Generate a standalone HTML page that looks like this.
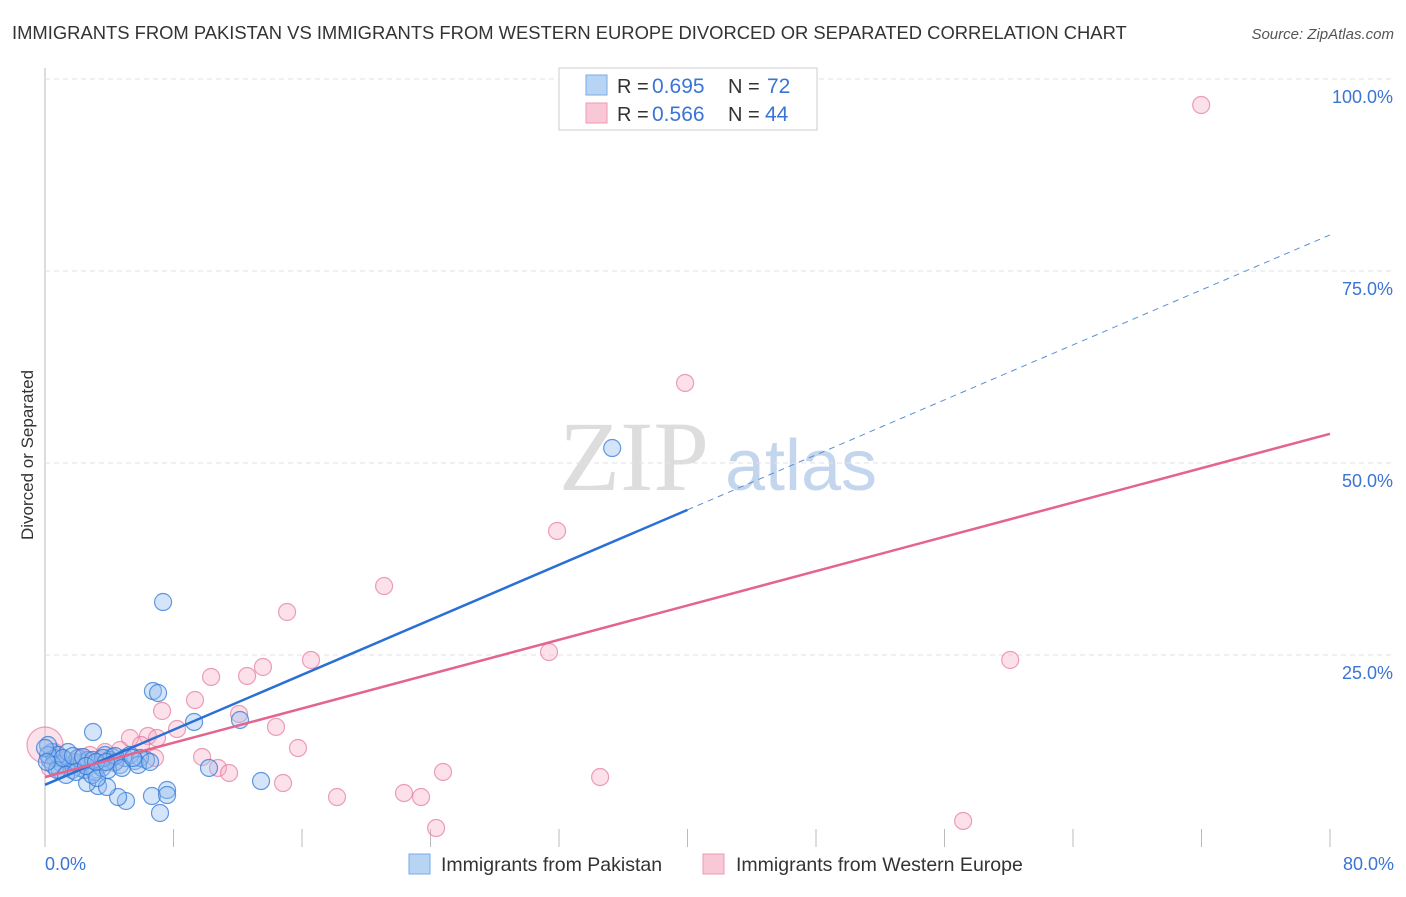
<!DOCTYPE html>
<html><head><meta charset="utf-8"><style>
body{margin:0;background:#fff;font-family:"Liberation Sans",sans-serif;}
</style></head><body>
<svg id="chart" width="1406" height="892" xmlns="http://www.w3.org/2000/svg" font-family="Liberation Sans, sans-serif">
<text x="12" y="39" font-size="18.4" fill="#333">IMMIGRANTS FROM PAKISTAN VS IMMIGRANTS FROM WESTERN EUROPE DIVORCED OR SEPARATED CORRELATION CHART</text>
<text x="1394" y="39" font-size="15" fill="#555" text-anchor="end" font-style="italic">Source: ZipAtlas.com</text>
<text transform="translate(33,455) rotate(-90)" font-size="17" fill="#333" text-anchor="middle">Divorced or Separated</text>
<g><text x="634" y="490" font-size="100" fill="#ddd" font-family="Liberation Serif, serif" text-anchor="middle">ZIP</text><text x="801" y="490" font-size="72" fill="#c4d6ee" text-anchor="middle">atlas</text></g>
<g id="grid"></g><g id="marks"></g>
<g>
<rect x="559" y="68" width="258" height="62" fill="#fff" stroke="#ccc"/>
<rect x="586" y="75" width="21" height="20" fill="#b8d4f4" stroke="#7aaae6"/>
<rect x="586" y="103" width="21" height="20" fill="#f9c8d6" stroke="#ee9ab4"/>
<text x="617" y="93" font-size="20" fill="#333">R =</text><text x="652" y="93" font-size="21" fill="#3a74d4">0.695</text><text x="728" y="93" font-size="20" fill="#333">N =</text><text x="767" y="93" font-size="21" fill="#3a74d4">72</text>
<text x="617" y="121" font-size="20" fill="#333">R =</text><text x="652" y="121" font-size="21" fill="#3a74d4">0.566</text><text x="728" y="121" font-size="20" fill="#333">N =</text><text x="765" y="121" font-size="21" fill="#3a74d4">44</text>
</g>
<g>
<rect x="409" y="854" width="21" height="20" fill="#b8d4f4" stroke="#7aaae6"/>
<text x="441" y="871" font-size="19.5" fill="#333">Immigrants from Pakistan</text>
<rect x="703" y="854" width="21" height="20" fill="#f9c8d6" stroke="#ee9ab4"/>
<text x="736" y="871" font-size="19.5" fill="#333">Immigrants from Western Europe</text>
</g>
</svg>
<script>
const yTicks=[25,50,75,100];
const yTickLabels=["25.0%","50.0%","75.0%","100.0%"];
const xTicks=[0,8,16,24,32,40,48,56,64,72,80];
const xEndLabels=["0.0%","80.0%"];
const bluePx=[[163,602],[153,691],[158,693],[93,732],[194,722],[240,720],[209,768],[261,781],[612,448],[152,796],[167,790],[160,813],[167,795],[126,801],[118,797],[98,786],[87,783],[107,787],[146,760],[135,761],[120,765],[112,757],[105,755],[90,764],[80,768],[70,766],[60,770],[50,760],[52,752],[48,745],[55,758],[65,760],[75,762],[85,770],[95,772],[100,765],[110,760],[125,758],[130,755],[140,758],[62,764],[72,770],[82,763],[92,775],[102,768],[58,755],[68,752],[78,758],[88,760],[115,762],[48,755],[53,765],[57,770],[63,758],[73,756],[83,757],[93,760],[97,778],[108,770],[103,758],[115,756],[122,768],[138,765],[133,758],[45,748],[47,762],[66,775],[76,772],[86,766],[96,762],[106,762],[150,762]];
const pinkPx=[[1201,105],[685,383],[557,531],[384,586],[287,612],[311,660],[263,667],[247,676],[211,677],[195,700],[162,711],[239,714],[276,727],[177,729],[148,736],[130,738],[141,745],[157,738],[298,748],[202,757],[218,768],[229,773],[283,783],[337,797],[404,793],[421,797],[443,772],[436,828],[549,652],[600,777],[1010,660],[963,821],[155,758],[120,750],[105,752],[90,755],[80,757],[65,760],[55,752],[70,762],[100,760],[114,763],[50,768],[45,745]];
const blueX=bluePx.map(p=>+((p[0]-45)/16.06).toFixed(2));
const blueY=bluePx.map(p=>+((847-p[1])/7.68).toFixed(2));
const pinkX=pinkPx.map(p=>+((p[0]-45)/16.06).toFixed(2));
const pinkY=pinkPx.map(p=>+((847-p[1])/7.68).toFixed(2));
const blueTrend=[8.1,79.7];
const pinkTrend=[9.1,53.8];
const sx=v=>45+v*16.0625, sy=v=>847-v*7.68;
const NS="http://www.w3.org/2000/svg";
function mk(tag,attrs,parent){const e=document.createElementNS(NS,tag);for(const k in attrs)e.setAttribute(k,attrs[k]);parent.appendChild(e);return e;}
const grid=document.getElementById('grid'),marks=document.getElementById('marks');
let ax=mk('line',{x1:45,y1:68,x2:45,y2:847,stroke:'#bbb'},grid);


yTicks.forEach((t,i)=>{
 const g=mk('line',{x1:45,x2:1394,y1:sy(t),y2:sy(t),stroke:'#e2e2e2','stroke-width':1,'stroke-dasharray':'5,4'},grid);
 
 
 const tx=mk('text',{x:1393,y:sy(t)+24,'font-size':18,fill:'#3a74d4','text-anchor':'end'},grid);
 tx.textContent=yTickLabels[i];
 
 
});
xTicks.forEach(t=>{
 const l=mk('line',{x1:sx(t),x2:sx(t),y1:829,y2:847,stroke:'#bbb'},grid);
 
 
});
[[0,'start',45],[1,'end',1394]].forEach(([i,a,x])=>{
 const tx=mk('text',{x:x,y:870,'font-size':18,fill:'#3a74d4','text-anchor':a},grid);
 tx.textContent=xEndLabels[i];
 
 
});
pinkX.forEach((x,i)=>{
 const c=mk('circle',{cx:sx(x),cy:sy(pinkY[i]),r:i===pinkX.length-1?18:8.5,fill:'rgba(246,170,195,0.35)',stroke:'rgba(230,120,155,0.7)','stroke-width':1.2},marks);
 
 
});
blueX.forEach((x,i)=>{
 const c=mk('circle',{cx:sx(x),cy:sy(blueY[i]),r:8.5,fill:'rgba(150,190,240,0.4)',stroke:'rgba(50,120,215,0.75)','stroke-width':1.2},marks);
 
 
});
const bm=blueTrend[0]+(blueTrend[1]-blueTrend[0])*0.5;
let l1=mk('line',{x1:sx(0),y1:sy(blueTrend[0]),x2:sx(40),y2:sy(bm),stroke:'#2a6fd6','stroke-width':2.5},marks);


let l2=mk('line',{x1:sx(40),y1:sy(bm),x2:sx(80),y2:sy(blueTrend[1]),stroke:'#5a8fd8','stroke-width':1,'stroke-dasharray':'6,5'},marks);


let l3=mk('line',{x1:sx(0),y1:sy(pinkTrend[0]),x2:sx(80),y2:sy(pinkTrend[1]),stroke:'#e4648e','stroke-width':2.5},marks);


</script>
</body></html>
